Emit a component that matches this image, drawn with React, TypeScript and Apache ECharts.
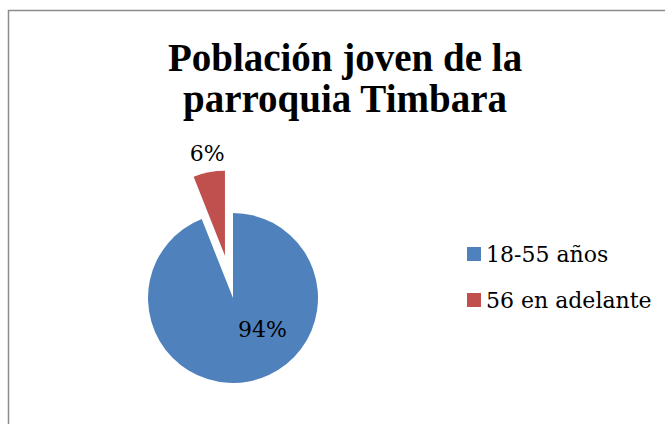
import React, { useEffect, useRef } from "react";
import * as echarts from "echarts";

const titleLines = ["Población joven de la", "parroquia Timbara"];
const categories = ["18-55 años", "56 en adelante"];
const values = [94, 6];
const colors = ["#4F81BD", "#C0504D"];

export default function App() {
  const ref = useRef<HTMLDivElement>(null);
  useEffect(() => {
    if (!ref.current) return;
    const chart = echarts.init(ref.current, null, { renderer: "svg" });
    const labelOffsets: [number, number][] = [
      [21, -13],
      [-2, -60],
    ];
    chart.setOption({
      animation: false,
      backgroundColor: "#ffffff",
      title: {
        text: titleLines.join("\n"),
        left: 340,
        textAlign: "center",
        top: 32,
        textStyle: {
          fontFamily: "Liberation Serif",
          fontWeight: "bold",
          fontSize: 39,
          lineHeight: 41,
          color: "#000000",
        },
      },
      graphic: [
        {
          type: "rect",
          shape: { x: 8.5, y: 10.5, width: 720, height: 500 },
          style: { fill: "none", stroke: "#8c8c8c", lineWidth: 1.5 },
          silent: true,
          z: -1,
        },
      ],
      legend: {
        orient: "vertical",
        left: 462,
        top: 238,
        icon: "rect",
        itemWidth: 14,
        itemHeight: 14,
        itemGap: 24,
        selectedMode: false,
        data: categories,
        textStyle: {
          fontFamily: "DejaVu Serif",
          fontSize: 22,
          lineHeight: 22,
          color: "#000000",
          padding: [0, 0, 0, 0],
        },
      },
      series: [
        {
          type: "pie",
          center: [233, 298],
          radius: 85,
          startAngle: 90,
          clockwise: true,
          selectedMode: "single",
          selectedOffset: 43,
          avoidLabelOverlap: false,
          labelLine: { show: false },
          itemStyle: { borderWidth: 0 },
          emphasis: { disabled: true },
          data: categories.map((name, i) => {
            const label = {
              show: true,
              position: "inside",
              offset: labelOffsets[i],
              formatter: "{d}%",
              fontFamily: "DejaVu Serif",
              fontSize: 22,
              color: "#000000",
            };
            return {
              name,
              value: values[i],
              selected: i === 1,
              itemStyle: { color: colors[i] },
              label,
              select: { label, itemStyle: { color: colors[i] } },
            };
          }),
        },
      ],
    });
    return () => chart.dispose();
  }, []);
  return (
    <div
      ref={ref}
      style={{ position: "fixed", left: 0, top: 0, width: 665, height: 424 }}
    />
  );
}
